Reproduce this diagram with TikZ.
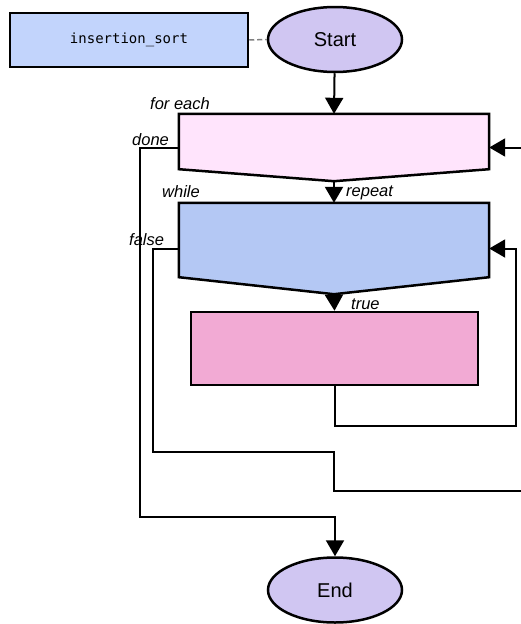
\documentclass[tikz,border=0pt]{standalone}
\usepackage{fontspec}
\setmainfont{Liberation Sans}
\newfontfamily\codefont{DejaVu Sans Mono}
\usetikzlibrary{arrows.meta,calc,shapes.geometric}

\definecolor{titlefill}{HTML}{C2D4FC}
\definecolor{termfill}{HTML}{D0C6F2}
\definecolor{loopfill}{HTML}{FFE4FC}
\definecolor{whilefill}{HTML}{B4C8F4}
\definecolor{bodyfill}{HTML}{F2AAD4}

\tikzset{
  titlebox/.style={draw, line width=2.5pt, fill=titlefill, rectangle,
    minimum width=238pt, minimum height=54pt, inner sep=0pt,
    font=\codefont\fontsize{14}{16}\selectfont},
  terminal/.style={draw, line width=2.5pt, fill=termfill, ellipse,
    minimum width=134pt, minimum height=65pt, inner sep=0pt,
    font=\fontsize{20}{24}\selectfont},
  blockframe/.style={rectangle, inner sep=0pt, minimum width=310pt},
  blockline/.style={draw, line width=2.5pt, line join=miter},
  bodybox/.style={draw, line width=2.5pt, fill=bodyfill, rectangle,
    minimum width=287pt, minimum height=73pt, inner sep=0pt},
  flow/.style={line width=2pt, -{Triangle[length=16pt,width=18pt]}},
  wire/.style={line width=2pt},
  lbl/.style={anchor=base west, inner sep=0pt,
    font=\itshape\fontsize{16.5}{19}\selectfont}
}

\begin{document}
\begin{tikzpicture}[x=1pt,y=-1pt]
\useasboundingbox (0,0) rectangle (521,624);

% function name and terminals
\node[titlebox] (title) at (129,40) {insertion\_sort};
\node[terminal] (start) at (335,39.5) {Start};
\node[terminal] (end) at (335,590) {End};
\draw[gray, line width=1.5pt, dash pattern=on 5pt off 3pt] (title.east) -- (start.west);

% for-each block
\node[blockframe, minimum height=67pt] (foreach) at (334,147.5) {};
\coordinate (foreachtip) at ($(foreach.south)$);
\filldraw[blockline, fill=loopfill]
  (foreach.north west) -- (foreach.north east) -- ($(foreach.south east)+(0,-12)$)
  -- (foreachtip) -- ($(foreach.south west)+(0,-12)$) -- cycle;

% while block
\node[blockframe, minimum height=91pt] (while) at (334,248.5) {};
\coordinate (whiletip) at ($(while.south)$);
\filldraw[blockline, fill=whilefill]
  (while.north west) -- (while.north east) -- ($(while.south east)+(0,-17)$)
  -- (whiletip) -- ($(while.south west)+(0,-17)$) -- cycle;

% loop body
\node[bodybox] (body) at (334.5,348.5) {};

% labels
\node[lbl] (lforeach) at (150,109) {for each};
\node[lbl] (ldone) at (132,145) {done};
\node[lbl] (lwhile) at (162,197) {while};
\node[lbl] (lrepeat) at (346,196) {repeat};
\node[lbl] (lfalse) at (129,245) {false};
\node[lbl] (ltrue) at (351,309) {true};

% routing points
\coordinate (outerin) at (521,147.5);
\coordinate (innerloop) at (516,426);
\coordinate (falsecorner) at (153,452);
\coordinate (falsebend) at (334,491);
\coordinate (falseout) at (521,491);
\coordinate (donecorner) at (140,517);

% connectors
\draw[flow] (start) -- (foreach.north);
\draw[flow] (foreachtip) -- (while.north);
\draw[flow] (whiletip) -- (body.north);
\draw[flow] (outerin) -- (foreach.east);
\draw[flow] (body.south) |- (innerloop) |- (while.east);
\draw[wire] (while.west) -| (falsecorner) -| (falsebend) -- (falseout);
\draw[flow] (foreach.west) -| (donecorner) -| (end.north);
\end{tikzpicture}
\end{document}
